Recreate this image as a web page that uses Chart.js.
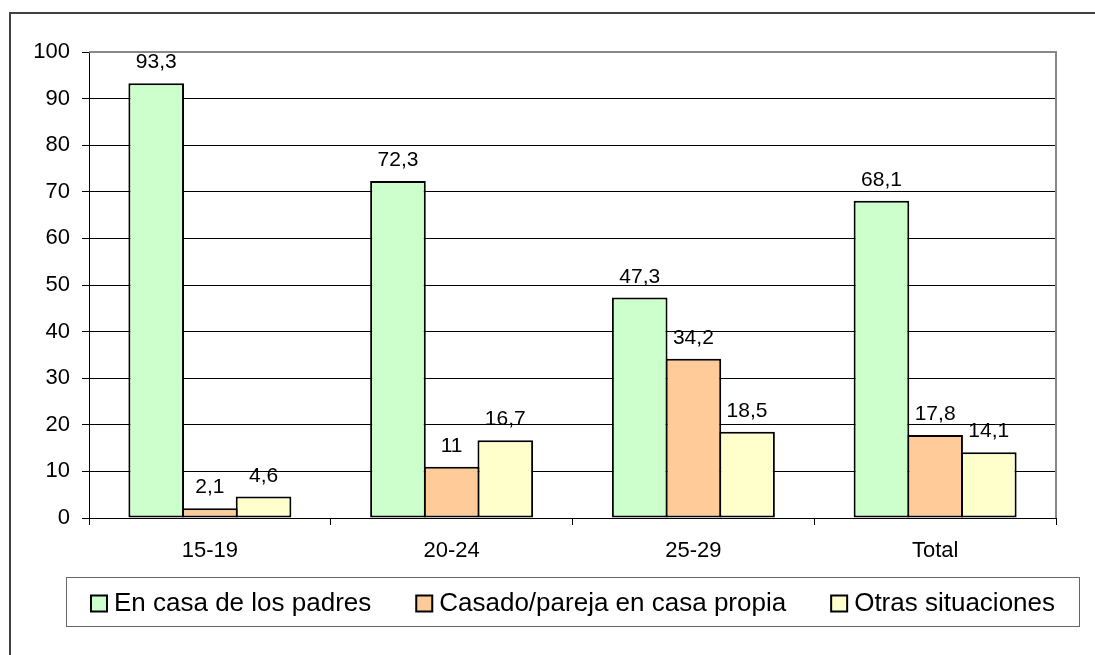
<!DOCTYPE html>
<html>
<head>
<meta charset="utf-8">
<title>Situación de residencia por edad</title>
<script src="https://cdn.jsdelivr.net/npm/chart.js@4/dist/chart.umd.min.js"></script>
<style>
  body { margin: 0; background: #fff; }
  canvas { display: block; }
</style>
</head>
<body>
<canvas id="chart" width="1095" height="655"></canvas>
<script>
// data
const categories = ["15-19", "20-24", "25-29", "Total"];
const enCasaPadres = [93.3, 72.3, 47.3, 68.1];
const casadoPareja = [2.1, 11, 34.2, 17.8];
const otrasSituaciones = [4.6, 16.7, 18.5, 14.1];
const seriesNames = ["En casa de los padres", "Casado/pareja en casa propia", "Otras situaciones"];
const seriesColors = ["#CCFFCC", "#FFCC99", "#FFFFCC"];
const yMin = 0, yMax = 100, yStep = 10;

const FONT = "'Liberation Sans', Arial, sans-serif";

// outer frame (only top + left edges are visible in the picture)
const framePlugin = {
  id: "frame",
  beforeDraw(chart) {
    const ctx = chart.ctx;
    ctx.save();
    ctx.fillStyle = "#fff";
    ctx.fillRect(0, 0, chart.width, chart.height);
    ctx.strokeStyle = "#404040";
    ctx.lineWidth = 2;
    ctx.beginPath();
    ctx.moveTo(10, chart.height);
    ctx.lineTo(10, 13);
    ctx.lineTo(chart.width, 13);
    ctx.stroke();
    ctx.restore();
  },
  // gray plot-area border on top and right
  beforeDatasetsDraw(chart) {
    const a = chart.chartArea;
    const ctx = chart.ctx;
    ctx.save();
    ctx.strokeStyle = "#888";
    ctx.lineWidth = 2;
    ctx.beginPath();
    ctx.moveTo(a.left, a.top);
    ctx.lineTo(a.right, a.top);
    ctx.lineTo(a.right, a.bottom);
    ctx.stroke();
    ctx.restore();
  }
};

// value labels above each bar, decimal comma
const valueLabels = {
  id: "valueLabels",
  afterDatasetsDraw(chart) {
    const ctx = chart.ctx;
    ctx.save();
    ctx.font = "21px " + FONT;
    ctx.fillStyle = "#000";
    ctx.textAlign = "center";
    ctx.textBaseline = "alphabetic";
    chart.data.datasets.forEach((ds, i) => {
      chart.getDatasetMeta(i).data.forEach((bar, j) => {
        const txt = String(ds.data[j]).replace(".", ",");
        ctx.fillText(txt, bar.x, bar.y - 15);
      });
    });
    ctx.restore();
  }
};

// boxed legend under the plot
const boxLegend = {
  id: "boxLegend",
  afterDraw(chart) {
    const ctx = chart.ctx;
    const box = { x: 66, y: 577, w: 1013, h: 49 };
    ctx.save();
    ctx.strokeStyle = "#666";
    ctx.lineWidth = 1;
    ctx.strokeRect(box.x + 0.5, box.y + 0.5, box.w, box.h);

    ctx.font = "26px " + FONT;
    const sym = 18, symGap = 6, itemGap = 44;
    const widths = chart.data.datasets.map(ds => ctx.measureText(ds.label).width);
    const total = widths.reduce((s, w) => s + sym + symGap + w, 0) + itemGap * (widths.length - 1);
    let x = box.x + box.w / 2 - total / 2;
    const cy = box.y + box.h / 2 + 2;
    ctx.textBaseline = "middle";
    ctx.textAlign = "left";
    chart.data.datasets.forEach((ds, i) => {
      ctx.fillStyle = ds.backgroundColor;
      ctx.fillRect(x + 1, cy - sym / 2 + 1, sym - 2, sym - 2);
      ctx.strokeStyle = "#000";
      ctx.lineWidth = 2;
      ctx.strokeRect(x + 1, cy - sym / 2 + 1, sym - 2, sym - 2);
      ctx.fillStyle = "#000";
      ctx.fillText(ds.label, x + sym + symGap, cy);
      x += sym + symGap + widths[i] + itemGap;
    });
    ctx.restore();
  }
};

const seriesData = [enCasaPadres, casadoPareja, otrasSituaciones];

new Chart(document.getElementById("chart"), {
  type: "bar",
  data: {
    labels: categories,
    datasets: seriesData.map((d, i) => ({
      label: seriesNames[i],
      data: d,
      backgroundColor: seriesColors[i],
      borderColor: "#000",
      borderWidth: 2,
      borderSkipped: false,
      inflateAmount: 0,
      // bars slightly wider than their slot so neighbours share one border
      categoryPercentage: 0.666,
      barPercentage: 1.037
    }))
  },
  options: {
    responsive: false,
    animation: false,
    layout: { padding: { top: 52, right: 39, left: 0, bottom: 0 } },
    plugins: {
      legend: { display: false },
      tooltip: { enabled: false }
    },
    scales: {
      x: {
        afterFit(scale) { scale.height = 137; },
        grid: {
          drawOnChartArea: false,
          drawTicks: true,
          tickLength: 7,
          color: "#000",
          offset: true
        },
        border: { color: "#000", width: 1 },
        ticks: {
          color: "#000",
          padding: 13,
          font: { family: FONT, size: 22 }
        }
      },
      y: {
        min: yMin,
        max: yMax,
        afterFit(scale) { scale.width = 89; },
        grid: {
          color: "#000",
          lineWidth: 1,
          tickLength: 7
        },
        border: { color: "#000", width: 1 },
        ticks: {
          stepSize: yStep,
          color: "#000",
          padding: 12,
          font: { family: FONT, size: 22 }
        }
      }
    }
  },
  plugins: [framePlugin, valueLabels, boxLegend]
});
</script>
</body>
</html>
